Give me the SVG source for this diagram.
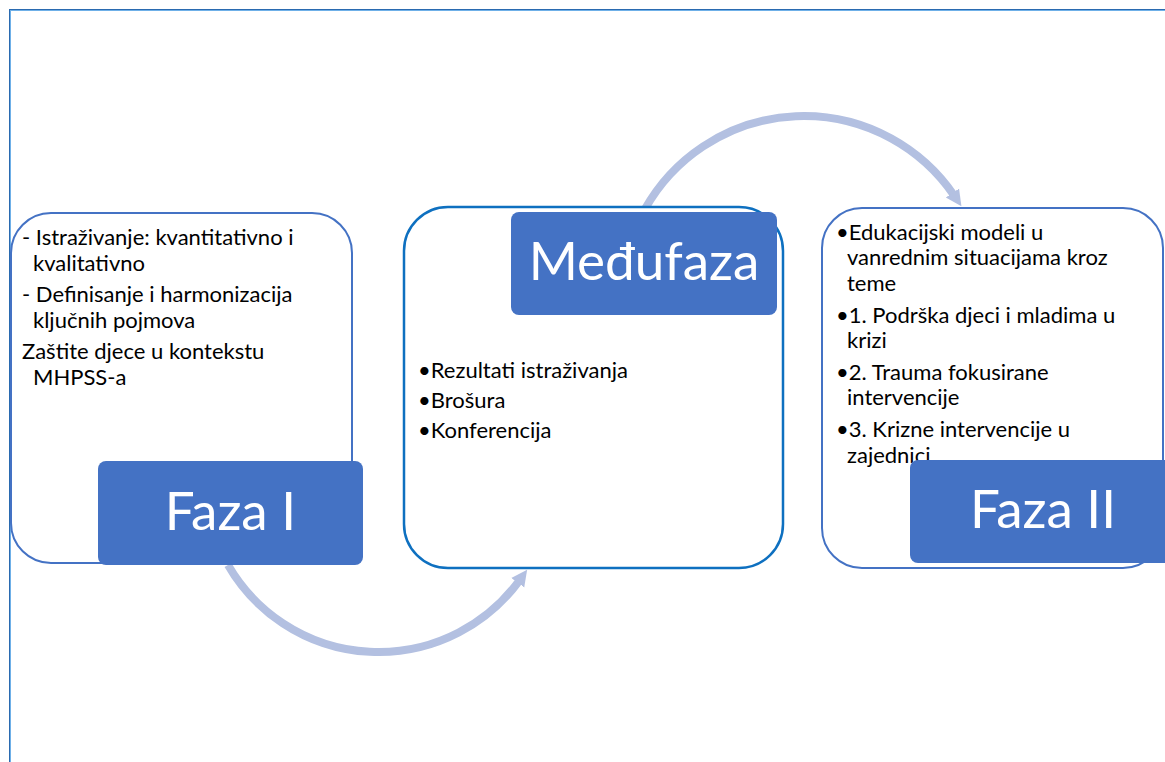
<svg xmlns="http://www.w3.org/2000/svg" width="1165" height="762" viewBox="0 0 1165 762">
<style>
.outer{fill:#fff;stroke:#4472C4;stroke-width:2}
.outer2{fill:#fff;stroke:#0E70C0;stroke-width:2.5}
.head{fill:#4472C4}
.ht{font-family:Lato,"Liberation Sans",sans-serif;font-size:53px;fill:#fff;text-anchor:middle}
.bt{font-family:Lato,"Liberation Sans",sans-serif;font-size:22px;fill:#000}
.arc{fill:none;stroke:#B3C0E1;stroke-width:8}
</style>
<defs>
<marker id="ah" markerUnits="userSpaceOnUse" markerWidth="20" markerHeight="20" refX="3" refY="10" orient="auto" viewBox="0 0 20 20">
<path d="M0,2 L16,10 L0,18 Z" fill="#B3C0E1"/>
</marker>
</defs>
<g id="frame">
<line x1="9" y1="9.5" x2="1165" y2="9.5" stroke="#2A6AB0" stroke-width="1"/>
<line x1="10" y1="10.5" x2="1165" y2="10.5" stroke="#6FB0E8" stroke-width="1"/>
<line x1="9.5" y1="9" x2="9.5" y2="762" stroke="#2A6AB0" stroke-width="1"/>
<line x1="10.5" y1="10" x2="10.5" y2="762" stroke="#6FB0E8" stroke-width="1"/>
</g>
<g id="connectors">
<path class="arc" d="M228,565 A174,174 0 0 0 519.5,580.3" marker-end="url(#ah)"/>
<path class="arc" d="M645,209 A182,182 0 0 1 954.1,195.5" marker-end="url(#ah)"/>
</g>
<g id="faza1">
<rect class="outer" x="11" y="213" width="341" height="350" rx="40"/>
<text class="bt" x="22" y="245">- Istraživanje: kvantitativno i</text>
<text class="bt" x="33" y="271">kvalitativno</text>
<text class="bt" x="22" y="302">- Definisanje i harmonizacija</text>
<text class="bt" x="33" y="328">ključnih pojmova</text>
<text class="bt" x="22" y="359">Zaštite djece u kontekstu</text>
<text class="bt" x="33" y="385">MHPSS-a</text>
<rect class="head" x="98" y="461" width="265" height="104" rx="8"/>
<text class="ht" x="230.5" y="530">Faza I</text>
</g>
<g id="medjufaza">
<rect class="outer2" x="404" y="207" width="379" height="361" rx="44"/>
<rect class="head" x="511" y="212" width="266" height="103" rx="8"/>
<text class="ht" x="644" y="280">Međufaza</text>
<text class="bt" x="418" y="378">•Rezultati istraživanja</text>
<text class="bt" x="418" y="408">•Brošura</text>
<text class="bt" x="418" y="438">•Konferencija</text>
</g>
<g id="faza2">
<rect class="outer" x="822" y="208" width="341" height="360" rx="40"/>
<text class="bt" x="836" y="240">•Edukacijski modeli u</text>
<text class="bt" x="847" y="265">vanrednim situacijama kroz</text>
<text class="bt" x="847" y="291">teme</text>
<text class="bt" x="836" y="323">•1. Podrška djeci i mladima u</text>
<text class="bt" x="847" y="348">krizi</text>
<text class="bt" x="836" y="380">•2. Trauma fokusirane</text>
<text class="bt" x="847" y="405">intervencije</text>
<text class="bt" x="836" y="437">•3. Krizne intervencije u</text>
<text class="bt" x="847" y="463">zajednici</text>
<rect class="head" x="910" y="460" width="270" height="103" rx="8"/>
<text class="ht" x="1043" y="528">Faza II</text>
</g>
</svg>
